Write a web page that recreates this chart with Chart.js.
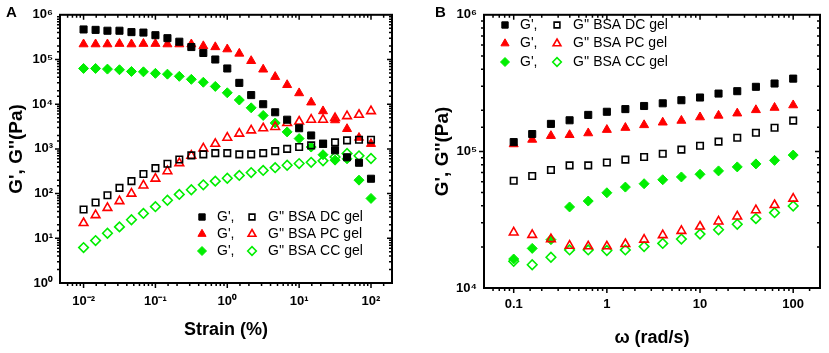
<!DOCTYPE html>
<html>
<head>
<meta charset="utf-8">
<script src="https://cdn.jsdelivr.net/npm/chart.js@4.4.1/dist/chart.umd.min.js"></script>
<style>
  body { margin: 0; background: #fff; width: 829px; height: 353px; position: relative; overflow: hidden; }
  canvas { position: absolute; top: 0; }
  #chartA { left: 0; width: 415px; height: 353px; }
  #chartB { left: 415px; width: 414px; height: 353px; }
  .tag { position: absolute; top: 3px; font: bold 15px "Liberation Sans", Arial, sans-serif; color: #000; }
</style>
</head>
<body>
<canvas id="chartA" width="415" height="353"></canvas>
<canvas id="chartB" width="414" height="353"></canvas>
<div class="tag" style="left:6px">A</div>
<div class="tag" style="left:435px">B</div>
<script>
// legend rows
const gelNames = ['BSA DC gel', 'BSA PC gel', 'BSA CC gel'];

// panel A: strain sweep, strain in %
const strain = [0.01, 0.0147, 0.0215, 0.0316, 0.0464, 0.0681, 0.1, 0.147, 0.215, 0.316, 0.464, 0.681,
                1, 1.47, 2.15, 3.16, 4.64, 6.81, 10, 14.7, 21.5, 31.6, 46.4, 68.1, 100];
const aDcG1 = [4.7e5, 4.6e5, 4.4e5, 4.4e5, 4.1e5, 4.0e5, 3.5e5, 3.0e5, 2.5e5, 1.9e5, 1.4e5, 1.0e5,
               6.3e4, 3.0e4, 1.6e4, 1.0e4, 6.6e3, 4.5e3, 2.9e3, 2.0e3, 1.3e3, 930, 650, 490, 215];
const aDcG2 = [44, 63, 92, 134, 190, 275, 372, 466, 580, 716, 754, 806,
               806, 754, 754, 806, 890, 1000, 1100, 1200, 1300, 1400, 1550, 1600, 1600];
const aPcG1 = [2.2e5, 2.2e5, 2.2e5, 2.25e5, 2.2e5, 2.25e5, 2.25e5, 2.2e5, 2.2e5, 2.2e5, 2.0e5, 1.9e5,
               1.7e5, 1.36e5, 9.3e4, 6.0e4, 4.1e4, 2.7e4, 1.77e4, 1.1e4, 7.0e3, 4.4e3, 2.8e3, 1.78e3, 1.3e3];
const aPcG2 = [22, 33, 48, 68, 100, 152, 216, 317, 480, 705, 1030, 1300,
               1780, 2200, 2600, 2900, 3100, 3800, 4100, 4500, 4500, 4900, 5400, 5800, 7000];
const aCcG1 = [6.3e4, 6.3e4, 6.1e4, 5.9e4, 5.4e4, 5.3e4, 4.9e4, 4.7e4, 4.2e4, 3.6e4, 3.1e4, 2.5e4,
               1.8e4, 1.24e4, 8.3e3, 5.6e3, 3.8e3, 2.4e3, 1.7e3, 1.1e3, 740, 560, 600, 200, 78];
const aCcG2 = [6.2, 8.9, 13, 18, 26, 36, 51, 71, 96, 122, 157, 190,
               220, 255, 295, 330, 380, 430, 470, 500, 540, 660, 790, 700, 610];

// panel B: frequency sweep, rad/s
const omega = [0.1, 0.158, 0.251, 0.398, 0.631, 1, 1.58, 2.51, 3.98, 6.31, 10, 15.8, 25.1, 39.8, 63.1, 100];
const bDcG1 = [1.17e5, 1.34e5, 1.59e5, 1.69e5, 1.85e5, 1.95e5, 2.04e5, 2.15e5, 2.25e5, 2.37e5, 2.48e5, 2.65e5, 2.76e5, 2.97e5, 3.14e5, 3.41e5];
const bDcG2 = [6.1e4, 6.6e4, 7.3e4, 7.9e4, 7.9e4, 8.3e4, 8.7e4, 9.1e4, 9.6e4, 1.03e5, 1.10e5, 1.18e5, 1.26e5, 1.37e5, 1.49e5, 1.68e5];
const bPcG1 = [1.13e5, 1.22e5, 1.30e5, 1.32e5, 1.36e5, 1.44e5, 1.49e5, 1.56e5, 1.63e5, 1.68e5, 1.78e5, 1.83e5, 1.90e5, 2.01e5, 2.09e5, 2.18e5];
const bPcG2 = [2.55e4, 2.45e4, 2.28e4, 2.04e4, 2.02e4, 2.02e4, 2.1e4, 2.26e4, 2.44e4, 2.62e4, 2.82e4, 3.07e4, 3.34e4, 3.71e4, 4.05e4, 4.51e4];
const bCcG1 = [1.63e4, 1.95e4, 2.26e4, 3.92e4, 4.33e4, 4.98e4, 5.48e4, 5.8e4, 6.2e4, 6.5e4, 6.8e4, 7.2e4, 7.7e4, 8.1e4, 8.6e4, 9.4e4];
const bCcG2 = [1.57e4, 1.48e4, 1.68e4, 1.90e4, 1.90e4, 1.88e4, 1.90e4, 2.01e4, 2.12e4, 2.28e4, 2.48e4, 2.67e4, 2.93e4, 3.22e4, 3.56e4, 3.98e4];

const FONT = '"Liberation Sans", Arial, sans-serif';
const BLACK = '#000000', RED = '#ff0000', GREEN = '#00ee00';
const SUP = { '-': '\u207B', '0': '\u2070', '1': '\u00B9', '2': '\u00B2', '3': '\u00B3', '4': '\u2074', '5': '\u2075', '6': '\u2076' };

function isDecade(v) {
    const l = Math.log10(v);
    return Math.abs(l - Math.round(l)) < 1e-6;
}
function powLabel(v) {
    const e = String(Math.round(Math.log10(v)));
    return '10' + e.split('').map(c => SUP[c]).join('');
}

function series(xs, ys, color, style, filled, r) {
    return {
        data: xs.map((x, i) => ({ x: x, y: ys[i] })),
        pointStyle: style,
        pointRadius: r,
        pointHoverRadius: r,
        pointBorderWidth: filled ? 1 : 1.6,
        borderColor: color,
        backgroundColor: filled ? color : 'rgba(0,0,0,0)'
    };
}

// frame with Origin-like ticks: out on left/bottom, in on top/right
const framePlugin = {
    id: 'frame',
    afterDatasetsDraw(chart) {
        const ctx = chart.ctx, a = chart.chartArea;
        const xs = chart.scales.x, ys = chart.scales.y;
        ctx.save();
        ctx.strokeStyle = '#000';
        ctx.lineWidth = 2;
        ctx.strokeRect(a.left, a.top, a.right - a.left, a.bottom - a.top);
        ctx.beginPath();
        xs.ticks.forEach(t => {
            const p = xs.getPixelForValue(t.value);
            if (p <= a.left + 1 || p >= a.right - 1) return;
            const len = isDecade(t.value) ? 5 : 3;
            ctx.moveTo(p, a.bottom); ctx.lineTo(p, a.bottom + len);
            ctx.moveTo(p, a.top); ctx.lineTo(p, a.top + len);
        });
        ys.ticks.forEach(t => {
            const p = ys.getPixelForValue(t.value);
            if (p <= a.top + 1 || p >= a.bottom - 1) return;
            const len = isDecade(t.value) ? 5 : 3;
            ctx.moveTo(a.left, p); ctx.lineTo(a.left - len, p);
            ctx.moveTo(a.right, p); ctx.lineTo(a.right - len, p);
        });
        ctx.lineWidth = 1.5;
        ctx.stroke();
        ctx.restore();
    }
};

function drawMark(ctx, ds, x, y) {
    ctx.fillStyle = ds.backgroundColor;
    ctx.strokeStyle = ds.borderColor;
    ctx.lineWidth = ds.pointBorderWidth;
    Chart.helpers.drawPoint(ctx, {
        pointStyle: ds.pointStyle, radius: ds.pointRadius - 0.5,
        rotation: 0, borderWidth: ds.pointBorderWidth
    }, x, y);
}

// legend: solid G' marker, then open G'' marker with the gel name
const pairLegend = {
    id: 'pairLegend',
    afterDraw(chart, args, opts) {
        const ctx = chart.ctx, sets = chart.data.datasets;
        ctx.save();
        gelNames.forEach((name, i) => {
            const y = opts.top + i * opts.step;
            drawMark(ctx, sets[i * 2], opts.solidX, y);
            drawMark(ctx, sets[i * 2 + 1], opts.openX, y);
            ctx.font = '14px ' + FONT;
            ctx.fillStyle = '#000';
            ctx.textBaseline = 'middle';
            ctx.fillText("G',", opts.solidX + 15, y);
            ctx.fillText("G'' " + name, opts.openX + 16, y);
        });
        ctx.restore();
    }
};

function makeChart(id, cfg) {
    const tickFont = { family: FONT, size: 13, weight: 'bold' };
    const titleFont = { family: FONT, size: 19, weight: 'bold' };
    return new Chart(document.getElementById(id), {
        type: 'scatter',
        data: { datasets: cfg.datasets },
        plugins: [framePlugin, pairLegend],
        options: {
            responsive: false,
            animation: false,
            layout: { padding: { top: cfg.top, right: cfg.right, left: 0, bottom: 0 } },
            plugins: {
                legend: { display: false },
                tooltip: { enabled: false },
                pairLegend: cfg.legend
            },
            scales: {
                x: {
                    type: 'logarithmic',
                    position: 'bottom',
                    min: cfg.xMin, max: cfg.xMax,
                    afterFit: s => { s.height = cfg.xHeight; },
                    grid: { display: false, drawTicks: false },
                    border: { display: false },
                    ticks: {
                        autoSkip: false, maxRotation: 0, minRotation: 0,
                        padding: cfg.xPad, color: '#000', font: tickFont,
                        callback: v => isDecade(v) ? cfg.xLabel(v) : ''
                    },
                    title: {
                        display: true, text: cfg.xTitle, color: '#000',
                        font: { family: FONT, size: 18, weight: 'bold' },
                        padding: { top: 0, bottom: cfg.xTitlePad }
                    }
                },
                y: {
                    type: 'logarithmic',
                    position: 'left',
                    min: cfg.yMin, max: cfg.yMax,
                    afterFit: s => { s.width = cfg.yWidth; },
                    grid: { display: false, drawTicks: false },
                    border: { display: false },
                    ticks: {
                        autoSkip: false, padding: 7, color: '#000', font: tickFont,
                        callback: v => isDecade(v) ? powLabel(v) : ''
                    },
                    title: {
                        display: true, text: "G', G''(Pa)", color: '#000',
                        font: titleFont,
                        padding: { top: cfg.yTitlePad, bottom: 0 }
                    }
                }
            }
        }
    });
}

makeChart('chartA', {
    datasets: [
        series(strain, aDcG1, BLACK, 'rect', true, 5),
        series(strain, aDcG2, BLACK, 'rect', false, 4.6),
        series(strain, aPcG1, RED, 'triangle', true, 5.2),
        series(strain, aPcG2, RED, 'triangle', false, 5),
        series(strain, aCcG1, GREEN, 'rectRot', true, 5),
        series(strain, aCcG2, GREEN, 'rectRot', false, 4.8)
    ],
    top: 10, right: 23, xHeight: 70, yWidth: 60,
    xMin: 0.0047, xMax: 196, yMin: 1, yMax: 1e6,
    xPad: 11, xTitlePad: 12, yTitlePad: 5,
    xLabel: powLabel, xTitle: 'Strain (%)',
    legend: { top: 217, step: 17, solidX: 202, openX: 252 }
});

makeChart('chartB', {
    datasets: [
        series(omega, bDcG1, BLACK, 'rect', true, 5),
        series(omega, bDcG2, BLACK, 'rect', false, 4.6),
        series(omega, bPcG1, RED, 'triangle', true, 5.2),
        series(omega, bPcG2, RED, 'triangle', false, 5),
        series(omega, bCcG1, GREEN, 'rectRot', true, 5),
        series(omega, bCcG2, GREEN, 'rectRot', false, 4.8)
    ],
    top: 12, right: 7, xHeight: 65, yWidth: 69,
    xMin: 0.048, xMax: 194, yMin: 1e4, yMax: 1e6,
    xPad: 9, xTitlePad: 4, yTitlePad: 16,
    xLabel: v => String(v), xTitle: '\u03C9 (rad/s)',
    legend: { top: 25, step: 18.5, solidX: 90, openX: 142 }
});
</script>
</body>
</html>
